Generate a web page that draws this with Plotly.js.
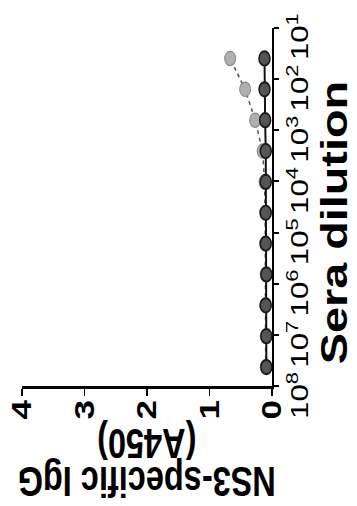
<!DOCTYPE html>
<html>
<head>
<meta charset="utf-8">
<script src="https://cdn.plot.ly/plotly-3.0.1.min.js"></script>
<style>
  html, body { margin: 0; padding: 0; background: #ffffff; }
  body { width: 357px; height: 506px; overflow: hidden; position: relative; }
  /* The figure is laid out landscape, stretched along its x axis,
     then turned a quarter turn counter-clockwise to sit on the page. */
  #frame {
    position: absolute; left: 0; top: 0;
    width: 389px; height: 357px;
    transform-origin: 0 0;
    transform: translate(0px, 506px) rotate(-90deg) scale(1.3, 1);
  }
  #chart { width: 389px; height: 357px; }
</style>
</head>
<body>
<div id="frame"><div id="chart"></div></div>
<script>
// Serial 4-fold sera dilutions (reciprocal), highest dilution first
const dilution = [41943040, 10485760, 2621440, 655360, 163840, 40960, 10240, 2560, 640, 160, 40];

// NS3-specific IgG, absorbance at 450 nm
const groupA = [0.10, 0.10, 0.11, 0.10, 0.11, 0.11, 0.12, 0.15, 0.27, 0.43, 0.67];
const groupB = [0.09, 0.09, 0.10, 0.09, 0.10, 0.10, 0.10, 0.10, 0.11, 0.12, 0.12];

// Axis ticks
const xTickVals = [1e8, 1e7, 1e6, 1e5, 1e4, 1e3, 1e2, 1e1];
const xTickText = ['10<sup>8</sup>', '10<sup>7</sup>', '10<sup>6</sup>', '10<sup>5</sup>',
                   '10<sup>4</sup>', '10<sup>3</sup>', '10<sup>2</sup>', '10<sup>1</sup>'];
const yTickVals = [0, 1, 2, 3, 4];

const sans = 'Liberation Sans, Arial, sans-serif';

const traces = [
  {
    name: 'Group A',
    x: dilution, y: groupA,
    type: 'scatter', mode: 'lines+markers',
    line: { color: '#555555', width: 1.5, dash: 'dot' },
    marker: { symbol: 'circle', size: 11, color: '#b0b0b0', line: { color: '#8a8a8a', width: 1 } },
    cliponaxis: false
  },
  {
    name: 'Group B',
    x: dilution, y: groupB,
    type: 'scatter', mode: 'lines+markers',
    line: { color: '#111111', width: 2 },
    marker: { symbol: 'circle', size: 11, color: '#555555', line: { color: '#1a1a1a', width: 1.5 } },
    cliponaxis: false
  }
];

const layout = {
  width: 389, height: 357,
  margin: { l: 92, r: 21, t: 22, b: 85 },
  paper_bgcolor: '#ffffff', plot_bgcolor: '#ffffff',
  showlegend: false,
  xaxis: {
    type: 'log', range: [8, 1],
    tickvals: xTickVals, ticktext: xTickText, tickangle: 0,
    ticklabelshift: 7,
    tickfont: { family: sans, size: 24, color: '#000000' },
    showline: true, linewidth: 2, linecolor: '#000000',
    ticks: 'outside', ticklen: 5, tickwidth: 1.5, tickcolor: '#000000',
    showgrid: false, zeroline: false
  },
  yaxis: {
    range: [0, 4], tickvals: yTickVals,
    tickfont: { family: sans, size: 27, color: '#000000', weight: 'bold' },
    ticklabelstandoff: -2,
    showline: true, linewidth: 2, linecolor: '#000000',
    ticks: 'outside', ticklen: 5, tickwidth: 1.5, tickcolor: '#000000',
    showgrid: false, zeroline: false
  },
  annotations: [
    { text: 'Sera dilution', xref: 'paper', yref: 'paper', x: 0.455, y: -0.25,
      xanchor: 'center', yanchor: 'middle', showarrow: false,
      font: { family: sans, size: 36, color: '#000000', weight: 'bold' } },
    { text: 'NS3-specific IgG', xref: 'paper', yref: 'paper', x: -0.265, y: 0.5,
      xanchor: 'center', yanchor: 'middle', textangle: -90, showarrow: false,
      font: { family: sans, size: 32.5, color: '#000000', weight: 'bold' } },
    { text: '(A450)', xref: 'paper', yref: 'paper', x: -0.158, y: 0.5,
      xanchor: 'center', yanchor: 'middle', textangle: -90, showarrow: false,
      font: { family: sans, size: 32.5, color: '#000000', weight: 'bold' } }
  ]
};

Plotly.newPlot('chart', traces, layout, { staticPlot: true, displayModeBar: false });
</script>
</body>
</html>
